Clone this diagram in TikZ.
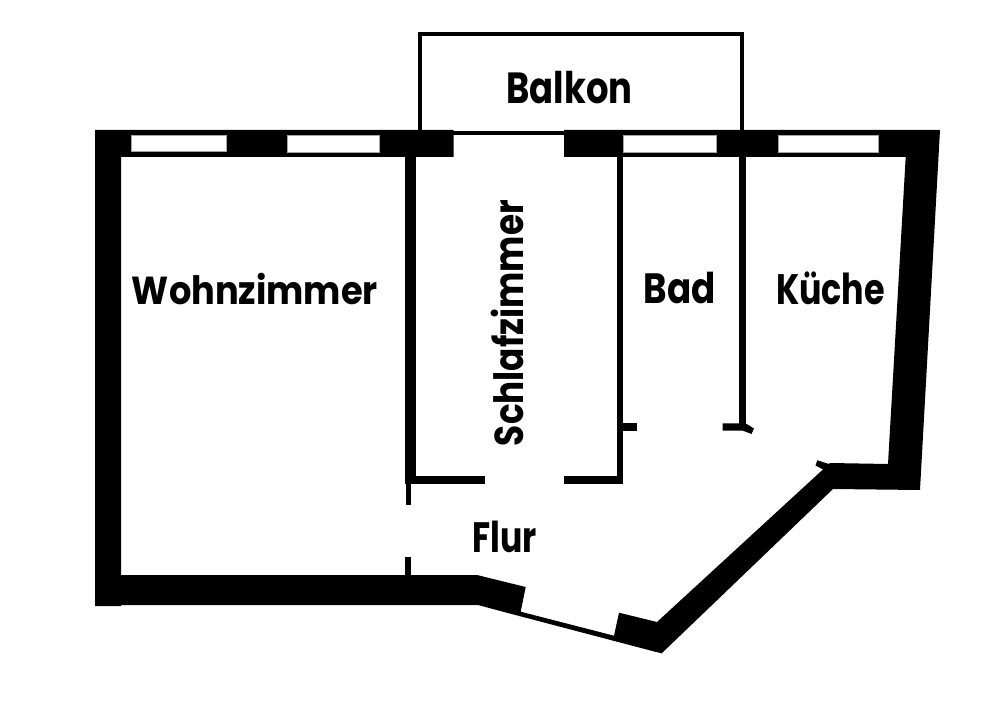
\documentclass[tikz,border=0pt]{standalone}
\usepackage{graphicx}
\usepackage{fontspec}
\setmainfont{Poppins}
\newlength{\pxunit}
\setlength{\pxunit}{0.03cm}
\newcommand{\fitlabel}[3]{\resizebox*{#1\pxunit}{#2\pxunit}{\bfseries #3}}
\tikzset{
  wall/.style={fill=black,draw=none},
  win/.style={fill=white,draw=black!35,line width=0.2pt},
  balk/.style={draw=black,line width=3.2pt,fill=none,line join=miter},
  room/.style={inner sep=0pt,text=black}
}
\begin{document}
\begin{tikzpicture}[x=0.03cm,y=-0.03cm]
\useasboundingbox[fill=white] (0,0) rectangle (1000,707);
% balcony
\coordinate (b1) at (419.7,132.7);
\coordinate (b2) at (419.7,34.2);
\coordinate (b3) at (742.2,34.2);
\coordinate (b4) at (742.2,132.7);
\draw[balk] (b1) -- (b2) -- (b3) -- (b4) -- cycle;
% outer walls
\fill[wall] (95,130) -- (453.5,130) -- (453.5,157) -- (121,157) -- (121,575) -- (477,575)
  -- (525.7,587) -- (520.7,611.7) -- (614,635.7) -- (619,612.7) -- (657,622) -- (830,463)
  -- (888,464) -- (905.7,157) -- (564,157) -- (564,130) -- (940,130) -- (920,490)
  -- (833,489) -- (661.7,653.3) -- (655,651.7) -- (506.7,612.7) -- (478,605) -- (121,605)
  -- (121,606) -- (95,606) -- cycle;
% windows
\draw[win] (131,135) rectangle (226.5,151);
\draw[win] (287.3,135) rectangle (379,152);
\draw[win] (623,135) rectangle (716,152);
\draw[win] (778,135) rectangle (878,152);
% inner walls
\fill[wall] (405,157) rectangle (415.7,484);
\fill[wall] (405,475.7) rectangle (485.3,484);
\fill[wall] (405.7,484) rectangle (411.3,505);
\fill[wall] (404.7,556.7) rectangle (410.7,575);
\fill[wall] (564.3,475.7) rectangle (623.3,484);
\fill[wall] (616.7,157) rectangle (623.3,484);
\fill[wall] (623,423.3) rectangle (636.7,430.7);
\fill[wall] (739,157) rectangle (745.5,425);
\fill[wall] (722.7,423.3) -- (745.5,423.3) -- (754,428.5) -- (751.5,434) -- (743,430.7) -- (722.7,430.7) -- cycle;
\fill[wall] (817.3,460.3) -- (832,465) -- (826,471) -- (815.5,465.5) -- cycle;
% labels
\node[room] (wz) at (255,289) {\fitlabel{246}{31.6}{Wohnzimmer}};
\node[room,rotate=90] (sz) at (507,323) {\fitlabel{246}{32.7}{Schlafzimmer}};
\node[room] (bad) at (679.5,287.5) {\fitlabel{72}{31.7}{Bad}};
\node[room] (ku) at (830.5,288) {\fitlabel{109}{33}{Küche}};
\node[room] (bk) at (569.5,88) {\fitlabel{126}{32.6}{Balkon}};
\node[room] (fl) at (504.5,537) {\fitlabel{64.4}{31.7}{Flur}};
\end{tikzpicture}
\end{document}
